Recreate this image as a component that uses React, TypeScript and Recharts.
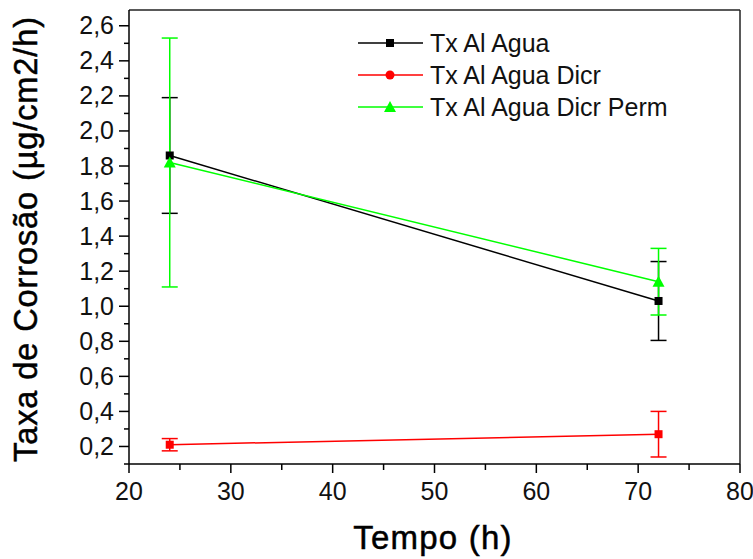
import React from 'react'
import {
  ComposedChart,
  Line,
  XAxis,
  YAxis,
  ErrorBar,
  Legend,
  Label,
  ReferenceLine,
} from 'recharts'

// tempo (h) and corrosion rates
const tempo = [24, 72]
const agua = [1.86, 1.03]
const aguaErro = [0.33, 0.225]
const aguaDicr = [0.21, 0.27]
const aguaDicrErro = [0.035, 0.13]
const aguaDicrPerm = [1.82, 1.14]
const aguaDicrPermErro = [0.71, 0.19]

const xTicks = [20, 25, 30, 35, 40, 45, 50, 55, 60, 65, 70, 75, 80]
const yTicks = [
  0.1, 0.2, 0.3, 0.4, 0.5, 0.6, 0.7, 0.8, 0.9, 1.0, 1.1, 1.2, 1.3, 1.4, 1.5,
  1.6, 1.7, 1.8, 1.9, 2.0, 2.1, 2.2, 2.3, 2.4, 2.5, 2.6,
]

const seriesNames = ['Tx Al Agua', 'Tx Al Agua Dicr', 'Tx Al Agua Dicr Perm']
const seriesColors = ['#000000', '#ff0000', '#00ff00']

const data = tempo.map((t, i) => ({
  t,
  agua: agua[i],
  aguaErro: aguaErro[i],
  aguaDicr: aguaDicr[i],
  aguaDicrErro: aguaDicrErro[i],
  aguaDicrPerm: aguaDicrPerm[i],
  aguaDicrPermErro: aguaDicrPermErro[i],
}))

const font = 'Liberation Sans, Arial, sans-serif'

const Square = (props: any) => (
  <rect key={props.key} x={props.cx - 4} y={props.cy - 4} width={8} height={8} fill={props.color} />
)
const Circle = (props: any) => (
  <circle key={props.key} cx={props.cx} cy={props.cy} r={4.5} fill={props.color} />
)
const Triangle = (props: any) => (
  <path
    key={props.key}
    d={`M${props.cx},${props.cy - 6}L${props.cx + 6},${props.cy + 5}L${props.cx - 6},${props.cy + 5}Z`}
    fill={props.color}
  />
)

// legend uses a circle for the red series, the plot itself uses squares
const legendMarkers = [Square, Circle, Triangle]
const plotMarkers = [Square, Square, Triangle]

const YTick = (props: any) => {
  const { x, y, payload } = props
  const v = payload.value
  const major = Math.round(v * 10) % 2 === 0
  return (
    <g>
      <line x1={x - (major ? 10 : 5)} x2={x} y1={y} y2={y} stroke="#000" strokeWidth={1.5} />
      {major && (
        <text x={x - 15} y={y} dy={8.5} textAnchor="end" fontSize={25} fontFamily={font} fill="#111">
          {v.toFixed(1).replace('.', ',')}
        </text>
      )}
    </g>
  )
}

const XTick = (props: any) => {
  const { x, y, payload } = props
  const v = payload.value
  const major = v % 10 === 0
  return (
    <g>
      <line x1={x} x2={x} y1={y} y2={y + (major ? 9 : 6)} stroke="#000" strokeWidth={1.5} />
      {major && (
        <text x={x} y={y + 36} textAnchor="middle" fontSize={25} fontFamily={font} fill="#111">
          {v}
        </text>
      )}
    </g>
  )
}

const LegendBox = () => (
  <svg width={340} height={100}>
    {seriesNames.map((name, i) => {
      const y = 18 + i * 32
      const Mark = legendMarkers[i]
      return (
        <g key={name}>
          <line x1={8} x2={73} y1={y} y2={y} stroke={seriesColors[i]} strokeWidth={1.5} />
          {Mark({ cx: 40, cy: y, color: seriesColors[i], key: name })}
          <text x={80} y={y + 9} fontSize={25} fontFamily={font} fill="#111">
            {name}
          </text>
        </g>
      )
    })}
  </svg>
)

export default function App() {
  const keys = ['agua', 'aguaDicr', 'aguaDicrPerm']
  return (
    <div style={{ position: 'absolute', left: 0, top: 0, background: '#fff' }}>
      <ComposedChart
        width={753}
        height={559}
        data={data}
        margin={{ top: 10, right: 13, left: 0, bottom: 0 }}
      >
        <XAxis
          dataKey="t"
          type="number"
          domain={[20, 80]}
          ticks={xTicks}
          height={95}
          tickLine={false}
          tickSize={0}
          tickMargin={0}
          tick={<XTick />}
          stroke="#000"
          strokeWidth={1.5}
          interval={0}
        >
          <Label
            content={() => (
              <text
                x={433}
                y={549}
                textAnchor="middle"
                fontSize={33}
                letterSpacing={1.2}
                stroke="#000"
                strokeWidth={0.5}
                fontFamily={font}
                fill="#000"
              >
                Tempo (h)
              </text>
            )}
          />
        </XAxis>
        <YAxis
          type="number"
          domain={[0.1, 2.69]}
          ticks={yTicks}
          width={129}
          tickLine={false}
          tickSize={0}
          tickMargin={0}
          tick={<YTick />}
          stroke="#000"
          strokeWidth={1.5}
          interval={0}
          allowDataOverflow
        >
          <Label
            content={() => (
              <text
                x={37}
                y={239}
                textAnchor="middle"
                fontSize={32.5}
                letterSpacing={0.9}
                stroke="#000"
                strokeWidth={0.5}
                fontFamily={font}
                fill="#000"
                transform="rotate(-90, 37, 239)"
              >
                Taxa de Corrosão (µg/cm2/h)
              </text>
            )}
          />
        </YAxis>
        <ReferenceLine y={2.69} stroke="#222" strokeWidth={1.5} />
        <ReferenceLine x={80} stroke="#222" strokeWidth={1.5} />
        {keys.map((k, i) => {
          const Mark = plotMarkers[i]
          return (
            <Line
              key={k}
              dataKey={k}
              name={seriesNames[i]}
              stroke={seriesColors[i]}
              strokeWidth={1.5}
              isAnimationActive={false}
              dot={(p: any) => Mark({ cx: p.cx, cy: p.cy, color: seriesColors[i], key: `${k}-${p.index}` })}
              activeDot={false}
            >
              <ErrorBar
                dataKey={`${k}Erro`}
                width={8}
                stroke={seriesColors[i]}
                strokeWidth={1.5}
                direction="y"
                isAnimationActive={false}
              />
            </Line>
          )
        })}
        <Legend
          layout="vertical"
          align="center"
          verticalAlign="middle"
          content={() => <LegendBox />}
          wrapperStyle={{ left: 350, top: 25, width: 340, height: 100 }}
        />
      </ComposedChart>
    </div>
  )
}
